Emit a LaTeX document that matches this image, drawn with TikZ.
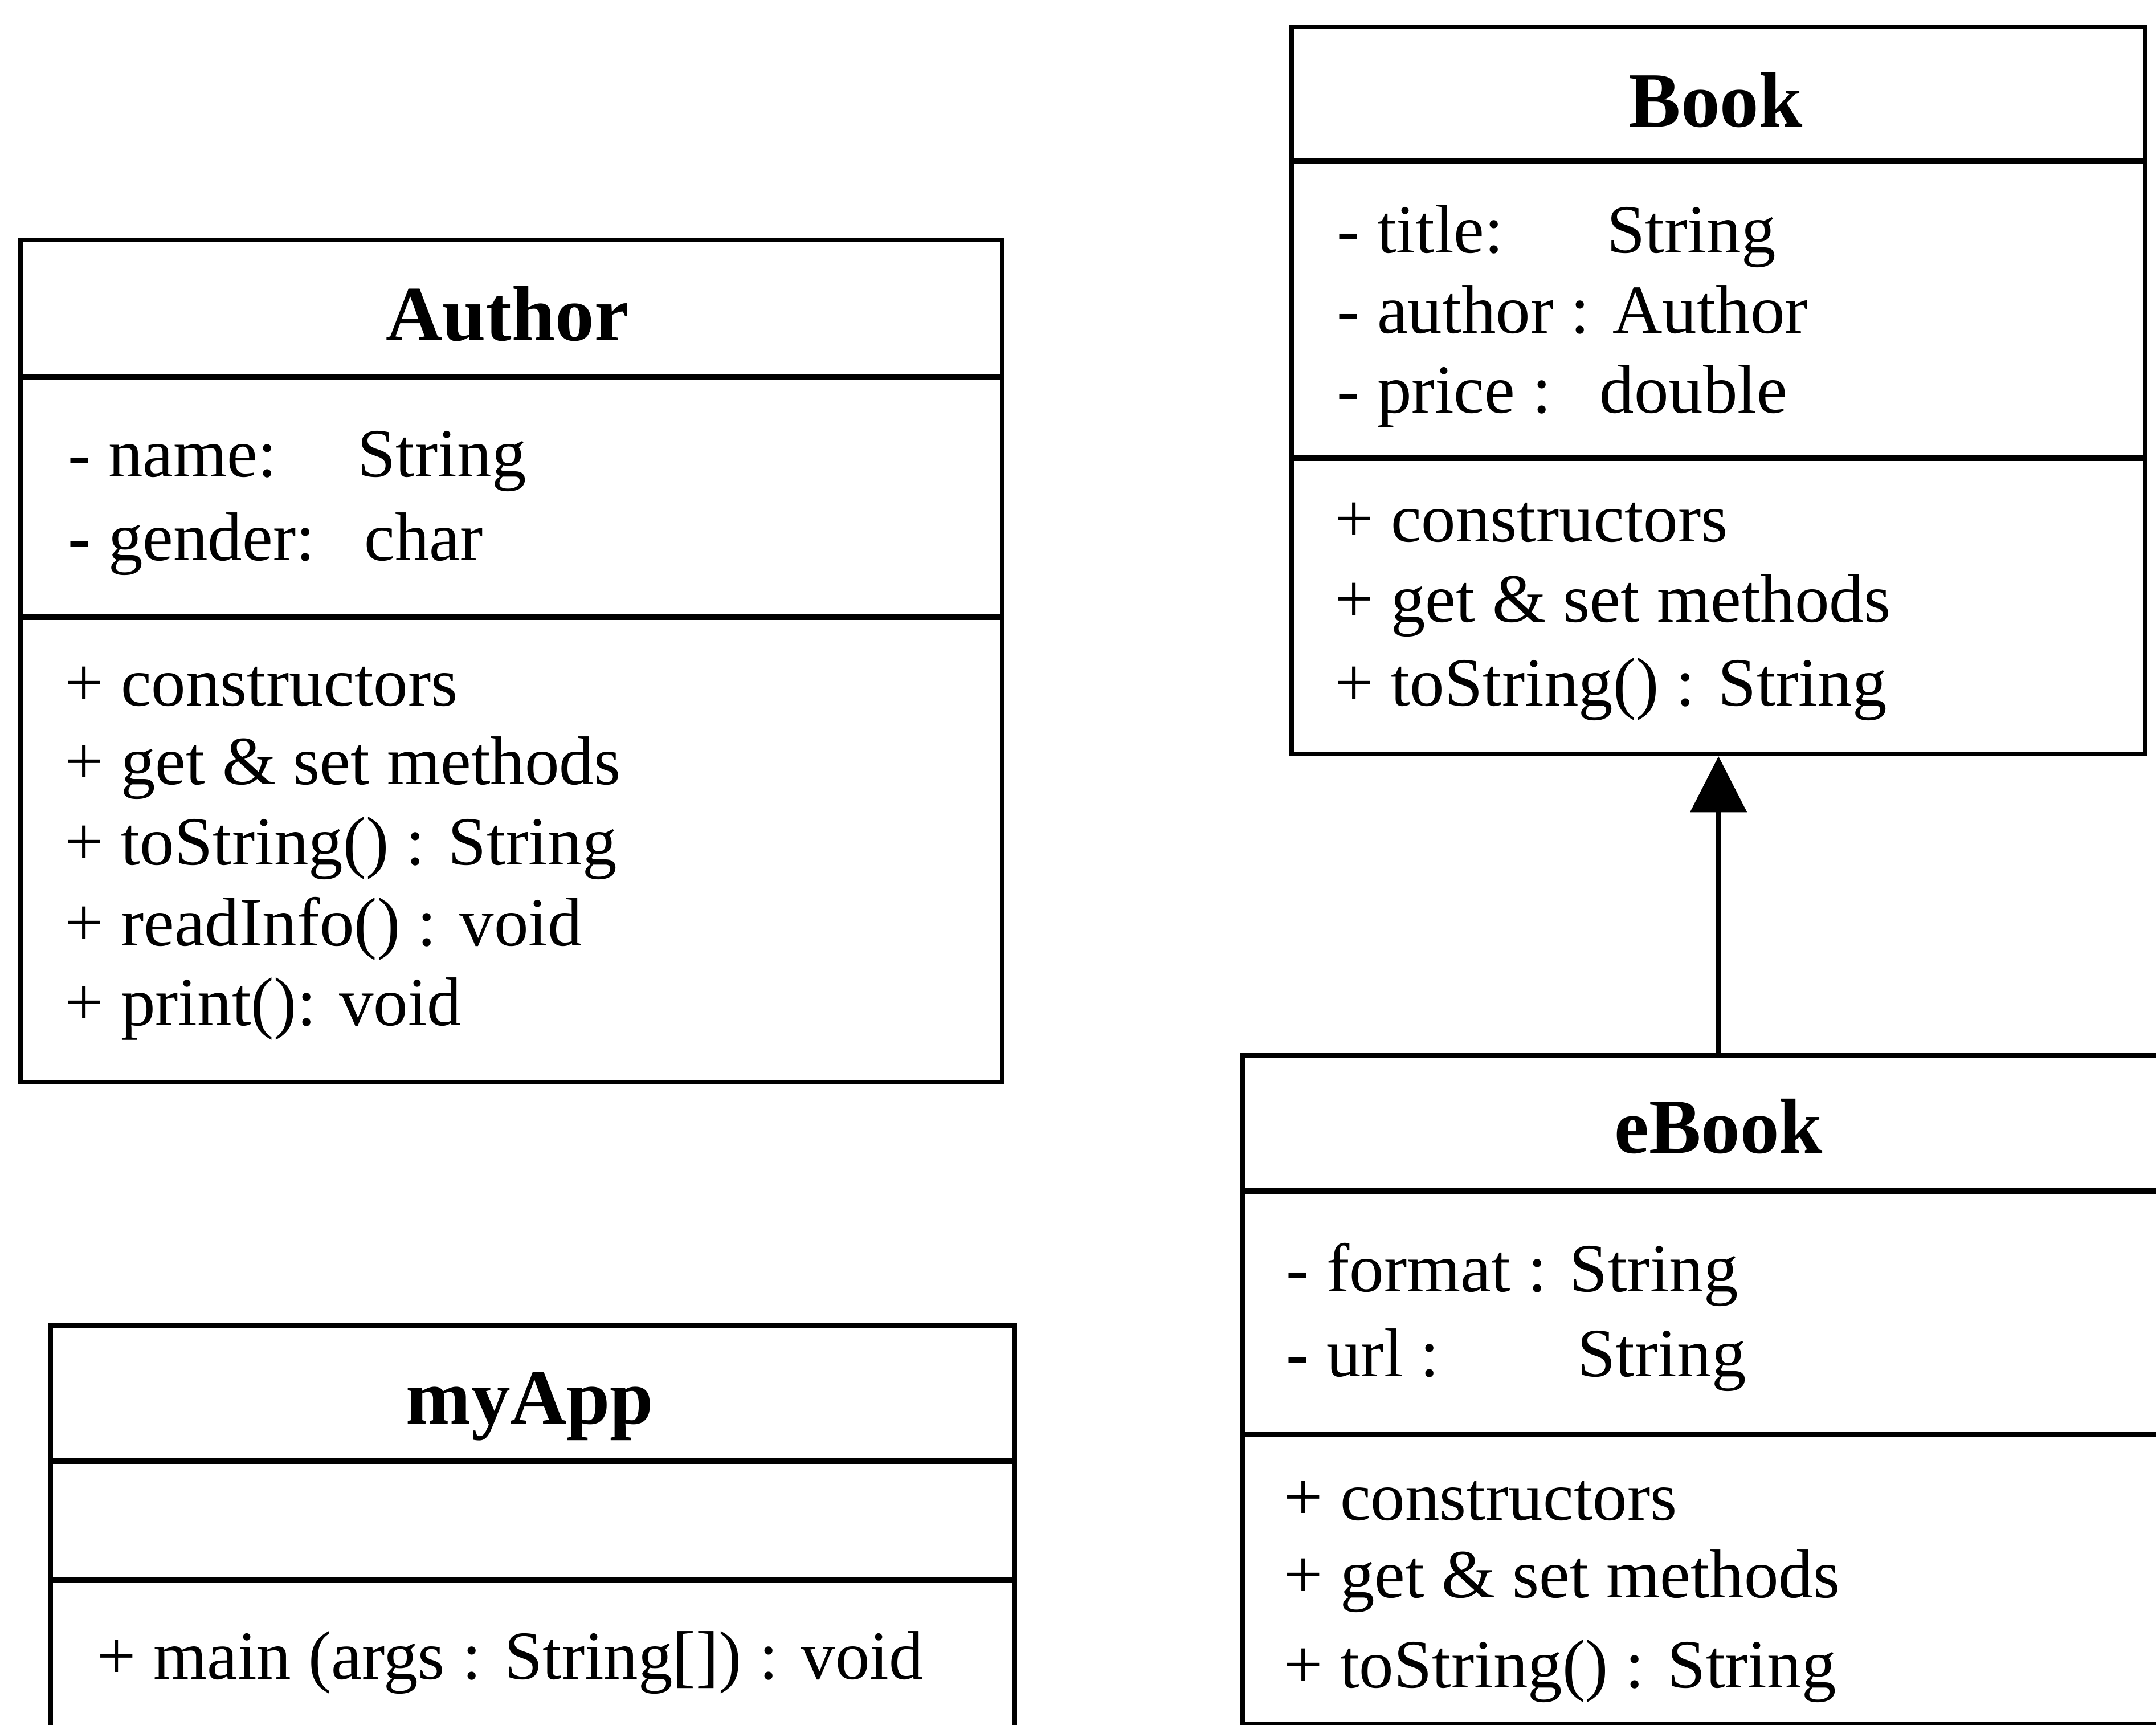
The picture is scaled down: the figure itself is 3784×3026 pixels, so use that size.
\documentclass[tikz,border=0pt]{standalone}
\usepackage{fontspec}
\setmainfont{Liberation Serif}
\usetikzlibrary{arrows.meta}

\begin{document}
\begin{tikzpicture}[x=0.01cm, y=-0.01cm,
    clase/.style={draw, line width=2.4pt, inner sep=0pt, anchor=north west},
    linea/.style={line width=2.6pt},
    titulo/.style={anchor=base, inner sep=0pt, font=\fontsize{39}{46}\selectfont\bfseries},
    texto/.style={anchor=base west, inner sep=0pt, font=\fontsize{34.4}{41}\selectfont},
    hereda/.style={-{Triangle[length=0.98cm, width=0.98cm]}, line width=2.2pt}]
    \useasboundingbox (0,0) rectangle (3784,3026);
    \clip (0,0) rectangle (3784,3026);
    % Clase Author
    \node[clase, minimum width=17.22cm, minimum height=14.77cm] (author) at (32,417) {};
    \draw[linea] (author.west |- 0,661) -- (author.east |- 0,661);
    \draw[linea] (author.west |- 0,1083) -- (author.east |- 0,1083);
    \node[titulo] (author-t) at (891,597) {Author};
    \node[texto] (author-a1) at (119,836) {- name:};
    \node[texto] (author-a1t) at (627,836) {String};
    \node[texto] (author-a2) at (119,983) {- gender:};
    \node[texto] (author-a2t) at (639,983) {char};
    \node[texto] (author-m1) at (113,1238) {+ constructors};
    \node[texto] (author-m2) at (113,1376) {+ get \& set methods};
    \node[texto] (author-m3) at (113,1517) {+ toString() : String};
    \node[texto] (author-m4) at (113,1659) {+ readInfo() : void};
    \node[texto] (author-m5) at (113,1799) {+ print(): void};
    % Clase Book
    \node[clase, minimum width=14.97cm, minimum height=12.75cm] (book) at (2263,43) {};
    \draw[linea] (book.west |- 0,282) -- (book.east |- 0,282);
    \draw[linea] (book.west |- 0,804) -- (book.east |- 0,804);
    \node[titulo] (book-t) at (3011,222) {Book};
    \node[texto] (book-a1) at (2346,443) {- title:};
    \node[texto] (book-a1t) at (2820,443) {String};
    \node[texto] (book-a2) at (2346,584) {- author : Author};
    \node[texto] (book-a3) at (2346,724) {- price :};
    \node[texto] (book-a3t) at (2807,724) {double};
    \node[texto] (book-m1) at (2342,950) {+ constructors};
    \node[texto] (book-m2) at (2342,1091) {+ get \& set methods};
    \node[texto] (book-m3) at (2342,1238) {+ toString() : String};
    % Clase eBook
    \node[clase, minimum width=16.78cm, minimum height=11.72cm] (ebook) at (2177,1848) {};
    \draw[linea] (ebook.west |- 0,2090) -- (ebook.east |- 0,2090);
    \draw[linea] (ebook.west |- 0,2517) -- (ebook.east |- 0,2517);
    \node[titulo] (ebook-t) at (3016,2023) {eBook};
    \node[texto] (ebook-a1) at (2257,2266) {- format : String};
    \node[texto] (ebook-a2) at (2257,2415) {- url :};
    \node[texto] (ebook-a2t) at (2768,2415) {String};
    \node[texto] (ebook-m1) at (2253,2667) {+ constructors};
    \node[texto] (ebook-m2) at (2253,2803) {+ get \& set methods};
    \node[texto] (ebook-m3) at (2253,2961) {+ toString() : String};
    % Clase myApp
    \node[clase, minimum width=16.91cm, minimum height=7.78cm] (myapp) at (85,2322) {};
    \draw[linea] (myapp.west |- 0,2564) -- (myapp.east |- 0,2564);
    \draw[linea] (myapp.west |- 0,2772) -- (myapp.east |- 0,2772);
    \node[titulo] (myapp-t) at (930,2498) {myApp};
    \node[texto] (myapp-m1) at (170,2946) {+ main (args : String[]) : void};
    % Herencia
    \draw[hereda] (book.south |- ebook.north) -- (book.south);
\end{tikzpicture}
\end{document}
